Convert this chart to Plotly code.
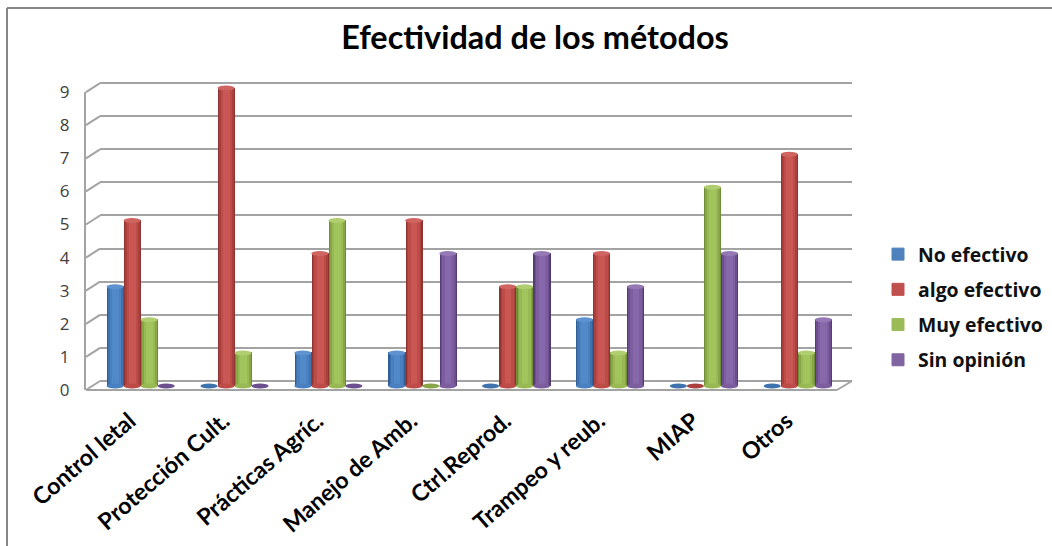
import plotly.graph_objects as go

W, H = 1052, 546

categories = ["Control letal", "Protección Cult.", "Prácticas Agríc.", "Manejo de Amb.",
              "Ctrl.Reprod.", "Trampeo y reub.", "MIAP", "Otros"]
no_efectivo = [3, 0, 1, 1, 0, 2, 0, 0]
algo_efectivo = [5, 9, 4, 5, 3, 4, 0, 7]
muy_efectivo = [2, 1, 5, 0, 3, 1, 6, 1]
sin_opinion = [0, 0, 0, 4, 4, 3, 4, 2]
value_ticks = [0, 1, 2, 3, 4, 5, 6, 7, 8, 9]

series = [
    ("No efectivo", no_efectivo, "#4f81bd", ["#2f5f96", "#3e73ae", "#4a80c0", "#5289c9"], "#5f93cf"),
    ("algo efectivo", algo_efectivo, "#c0504d", ["#8f3431", "#aa403d", "#bd4c49", "#c95753"], "#d06461"),
    ("Muy efectivo", muy_efectivo, "#9bbb59", ["#6f8c36", "#88a647", "#98b953", "#a2c45c"], "#b0cd70"),
    ("Sin opinión", sin_opinion, "#8064a2", ["#553c75", "#6c4f8f", "#7c5e9f", "#8768aa"], "#9579b5"),
]


def fx(px):
    return px / W


def fy(px):
    return 1 - px / H


GRID = "#a3a3a3"
slot_w = 0.1815  # one cylinder, in category units
cap_y = 0.075    # half height of a cylinder's end ellipse, in value units
y_pad = 0.5
grid_pad = 0.05  # keeps the 0 and 9 gridlines inside the rear axis range
unit_px = 33.1

fig = go.Figure()
shapes = []
group_left = -2 * slot_w
insets = [0.0, 0.012, 0.03, 0.055]

# Rear and front planes come first so the cylinders are layered over their lines
fig.add_trace(go.Scatter(x=[None], y=[None], xaxis="x", yaxis="y", showlegend=False))
fig.add_trace(go.Scatter(x=[None], y=[None], xaxis="x2", yaxis="y2", showlegend=False))

for k, (name, values, swatch, shades, top) in enumerate(series):
    left = group_left + k * slot_w
    # Nested bars of narrowing width give each cylinder its rounded shading
    for j, shade in enumerate(shades):
        inset = insets[j]
        fig.add_trace(go.Bar(
            x=categories, y=values, name=name,
            offset=left + inset,
            width=slot_w - 2 * inset,
            marker=dict(color=shade, line=dict(width=0)),
            showlegend=False, legendgroup=name, xaxis="x3", yaxis="y3",
        ))
    fig.add_trace(go.Bar(
        x=[categories[0]], y=[None], name=name,
        marker=dict(color=swatch, line=dict(width=1, color=swatch)),
        showlegend=True, legendgroup=name, xaxis="x3", yaxis="y3",
    ))
    # Elliptical ends of each cylinder, placed through the data axes
    for i, v in enumerate(values):
        x0 = i + left
        x1 = x0 + slot_w
        shapes.append(dict(type="circle", xref="x3", yref="y3", x0=x0, x1=x1,
                           y0=-cap_y, y1=cap_y, line_width=0,
                           fillcolor=shades[2] if v > 0 else shades[1], layer="above"))
        if v > 0:
            shapes.append(dict(type="circle", xref="x3", yref="y3", x0=x0, x1=x1,
                               y0=v - cap_y, y1=v + cap_y, line_width=0,
                               fillcolor=top, layer="above"))

# Category labels live on their own axis, set slightly ahead of the cylinders
fig.add_trace(go.Scatter(x=categories, y=[None] * len(categories), xaxis="x4", yaxis="y3",
                         showlegend=False))

# Floor edges joining the front and rear planes
for x0, y0, x1, y1 in [(86, 390, 837, 390), (837, 390, 852, 381)]:
    shapes.append(dict(type="line", xref="paper", yref="paper",
                       x0=fx(x0), x1=fx(x1), y0=fy(y0), y1=fy(y1),
                       line=dict(color=GRID, width=2), layer="below"))
# Side wall slats between the value axis and the rear gridlines
for v in value_ticks:
    shapes.append(dict(type="line", xref="paper", yref="paper",
                       x0=fx(86), x1=fx(100),
                       y0=fy(390 - v * unit_px), y1=fy(381 - v * unit_px),
                       line=dict(color=GRID, width=2), layer="below"))
# Outer chart frame along the top and left
shapes.append(dict(type="line", xref="paper", yref="paper", x0=fx(7), x1=1, y0=fy(8), y1=fy(8),
                   line=dict(color="#868686", width=2)))
shapes.append(dict(type="line", xref="paper", yref="paper", x0=fx(7), x1=fx(7), y0=fy(8), y1=0,
                   line=dict(color="#868686", width=2)))

fig.update_layout(
    width=W, height=H,
    margin=dict(l=0, r=0, t=0, b=0, autoexpand=False),
    paper_bgcolor="white", plot_bgcolor="rgba(0,0,0,0)",
    barmode="overlay",
    bargap=0,
    shapes=shapes,
    font=dict(family="Lato, sans-serif", color="#000000"),
    title=dict(text="<b>Efectividad de los métodos</b>",
               font=dict(family="Lato, sans-serif", size=32.4, color="#000000"),
               x=535 / W, xanchor="center", y=fy(38), yanchor="middle"),
    legend=dict(x=fx(878), xanchor="left", y=fy(235), yanchor="top",
                font=dict(family="Open Sans, sans-serif", size=19.4, color="#111111", weight=700),
                tracegroupgap=7, bgcolor="rgba(0,0,0,0)", itemclick=False, itemdoubleclick=False),
    # Rear wall carrying the horizontal gridlines
    xaxis=dict(domain=[fx(100), fx(852)], range=[0, 1], visible=False, anchor="y", automargin=False),
    yaxis=dict(domain=[fy(381 + grid_pad * unit_px), fy(83 - grid_pad * unit_px)],
               range=[-grid_pad, 9 + grid_pad], tickvals=value_ticks,
               showgrid=True, gridcolor=GRID, gridwidth=2, showticklabels=False, ticks="",
               zeroline=False, showline=False, anchor="x", automargin=False),
    # Front plane carrying the value axis and its labels
    xaxis2=dict(domain=[fx(86), fx(837)], range=[0, 1], visible=False, anchor="y2", automargin=False),
    yaxis2=dict(domain=[fy(390), fy(92)], range=[0, 9], tickvals=value_ticks,
                showgrid=False, showline=True, linecolor=GRID, linewidth=2, zeroline=False,
                ticks="outside", ticklen=11, tickcolor="rgba(0,0,0,0)",
                tickfont=dict(family="Open Sans, sans-serif", size=17, color="#404040"),
                anchor="x2", automargin=False),
    # Cylinders: the 0-9 span runs from 386 px up to 88 px, padded for the end ellipses
    xaxis3=dict(domain=[fx(93.7), fx(844.7)], range=[-0.5, 7.5], type="category",
                categoryorder="array", categoryarray=categories,
                showgrid=False, showline=False, zeroline=False, showticklabels=False, ticks="",
                anchor="y3", automargin=False),
    yaxis3=dict(domain=[fy(386 + y_pad * unit_px), fy(88 - y_pad * unit_px)],
                range=[-y_pad, 9 + y_pad], showgrid=False, showticklabels=False, ticks="",
                zeroline=False, showline=False, anchor="x3", automargin=False),
    # Slanted category labels
    xaxis4=dict(domain=[fx(82.7), fx(833.7)], range=[-0.5, 7.5], type="category",
                categoryorder="array", categoryarray=categories,
                anchor="free", position=fy(402),
                showgrid=False, showline=False, zeroline=False, ticks="",
                tickangle=-41,
                tickfont=dict(family="Lato, sans-serif", size=23.2, color="#000000", weight=700),
                automargin=False),
)

fig.write_html("out.html")
